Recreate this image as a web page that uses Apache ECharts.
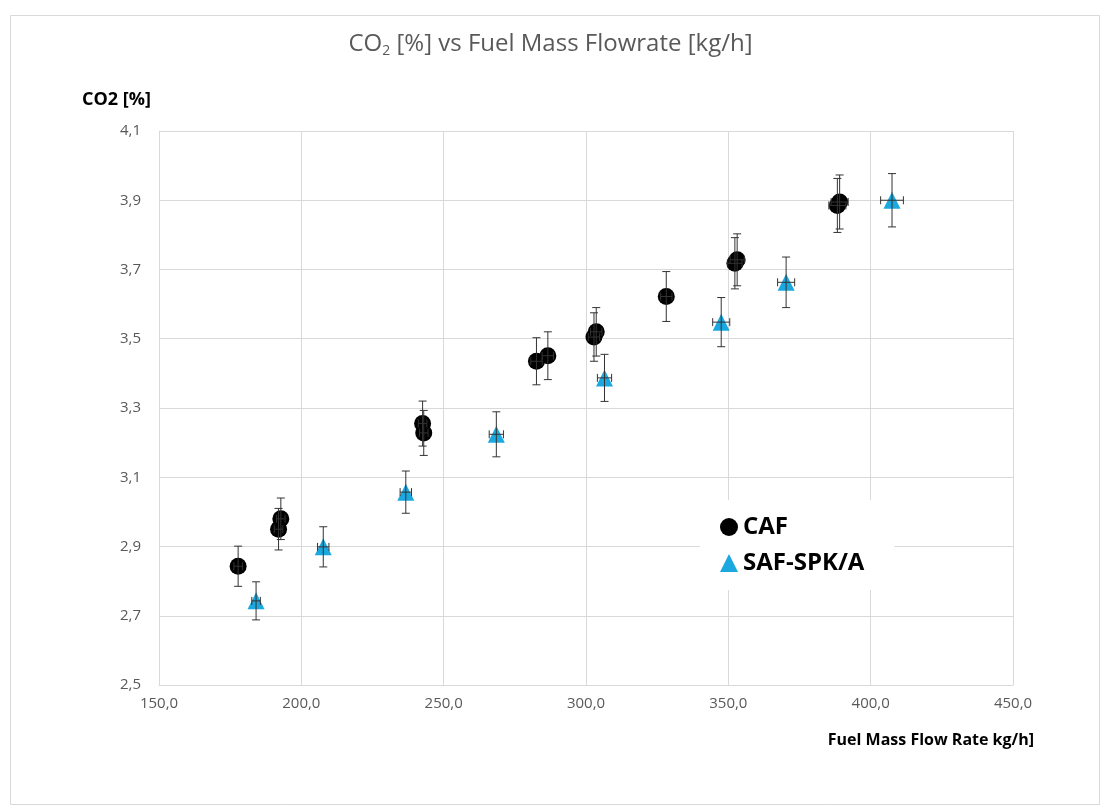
<!DOCTYPE html>
<html>
<head>
<meta charset="utf-8">
<script src="https://cdn.jsdelivr.net/npm/echarts@6/dist/echarts.min.js"></script>
<style>
html,body{margin:0;padding:0;background:#fff;}
#chart{width:1101px;height:806px;}
</style>
</head>
<body>
<div id="chart"></div>
<script>
// ---- data ----
var cafFlow = [177.8, 192.0, 192.8, 242.6, 243.0, 282.6, 286.6, 302.8, 303.6, 328.2, 352.3, 353.1, 388.3, 389.1];
var cafCO2  = [2.843, 2.950, 2.980, 3.255, 3.228, 3.435, 3.451, 3.505, 3.520, 3.622, 3.718, 3.728, 3.885, 3.895];
var cafCO2Err  = [0.058, 0.060, 0.060, 0.065, 0.065, 0.068, 0.069, 0.070, 0.070, 0.072, 0.074, 0.075, 0.078, 0.078];
var cafFlowErr = [1.5, 1.5, 1.5, 1.5, 1.5, 2.0, 2.0, 2.0, 2.0, 2.0, 2.5, 2.5, 3.0, 3.0];

var safFlow = [184.1, 207.7, 236.7, 268.5, 306.5, 347.5, 370.3, 407.5];
var safCO2  = [2.743, 2.899, 3.057, 3.224, 3.387, 3.548, 3.663, 3.900];
var safCO2Err  = [0.055, 0.058, 0.061, 0.065, 0.068, 0.071, 0.073, 0.077];
var safFlowErr = [1.5, 2.0, 2.0, 2.5, 2.5, 3.0, 3.0, 4.0];

var xTicks = {min: 150, max: 450, interval: 50};
var yTicks = {min: 2.5, max: 4.1, interval: 0.2};

// ---- build ----
function pts(xs, ys) { return xs.map(function (x, i) { return [x, ys[i]]; }); }
function errs(xs, ys, xe, ye) { return xs.map(function (x, i) { return [x, ys[i], xe[i], ye[i]]; }); }

function errorRender(params, api) {
  var x = api.value(0), y = api.value(1), xe = api.value(2), ye = api.value(3);
  var top = api.coord([x, y + ye]), bot = api.coord([x, y - ye]);
  var lft = api.coord([x - xe, y]), rgt = api.coord([x + xe, y]);
  var c = 4;
  var st = {stroke: '#333333', lineWidth: 1};
  return {
    type: 'group',
    children: [
      {type: 'line', shape: {x1: top[0], y1: top[1], x2: bot[0], y2: bot[1]}, style: st},
      {type: 'line', shape: {x1: top[0] - c, y1: top[1], x2: top[0] + c, y2: top[1]}, style: st},
      {type: 'line', shape: {x1: bot[0] - c, y1: bot[1], x2: bot[0] + c, y2: bot[1]}, style: st},
      {type: 'line', shape: {x1: lft[0], y1: lft[1], x2: rgt[0], y2: rgt[1]}, style: st},
      {type: 'line', shape: {x1: lft[0], y1: lft[1] - c, x2: lft[0], y2: lft[1] + c}, style: st},
      {type: 'line', shape: {x1: rgt[0], y1: rgt[1] - c, x2: rgt[0], y2: rgt[1] + c}, style: st}
    ]
  };
}

var FONT = '"Open Sans", "Liberation Sans", sans-serif';
var chart = echarts.init(document.getElementById('chart'), null, {renderer: 'canvas'});
chart.setOption({
  backgroundColor: '#fff',
  animation: false,
  title: {
    text: '{a|CO}{s|2}{a| [%] vs Fuel Mass Flowrate [kg/h]}',
    left: 'center',
    top: 26,
    textStyle: {
      fontWeight: 'normal',
      rich: {
        a: {fontFamily: FONT, fontSize: 24, fontWeight: 'normal', color: '#595959'},
        s: {fontFamily: FONT, fontSize: 14, fontWeight: 'normal', color: '#595959', padding: [13, 0, 0, 0]}
      }
    }
  },
  graphic: [
    {type: 'rect', left: 8, top: 13, shape: {width: 1089, height: 789}, style: {fill: 'none', stroke: '#d9d9d9', lineWidth: 1}, silent: true, z: -1},
    {type: 'text', left: 82, top: 91, style: {text: 'CO2 [%]', font: 'bold 18px ' + FONT, fill: '#000'}},
    {type: 'text', right: 1101 - 1034, top: 732, style: {text: 'Fuel Mass Flow Rate kg/h]', font: 'bold 16px ' + FONT, fill: '#000'}}
  ],
  legend: {
    left: 700,
    top: 500,
    orient: 'vertical',
    itemGap: 12,
    itemWidth: 18,
    itemHeight: 18,
    padding: [15, 30, 15, 20],
    backgroundColor: '#fff',
    textStyle: {fontFamily: FONT, fontSize: 24, fontWeight: 'bold', color: '#000'},
    data: [
      {name: 'CAF', icon: 'circle', itemStyle: {opacity: 1}},
      {name: 'SAF-SPK/A', icon: 'triangle', itemStyle: {opacity: 1}}
    ]
  },
  grid: {left: 159, right: 1101 - 1013, top: 131, bottom: 806 - 685, containLabel: false},
  xAxis: {
    type: 'value',
    min: xTicks.min, max: xTicks.max, interval: xTicks.interval,
    axisLine: {show: true, lineStyle: {color: '#d9d9d9'}},
    axisTick: {show: false},
    splitLine: {show: true, lineStyle: {color: '#d9d9d9', width: 1}},
    axisLabel: {
      margin: 11,
      color: '#595959', fontFamily: FONT, fontSize: 15,
      formatter: function (v) { return v.toFixed(1).replace('.', ','); }
    }
  },
  yAxis: {
    type: 'value',
    min: yTicks.min, max: yTicks.max, interval: yTicks.interval,
    axisLine: {show: true, lineStyle: {color: '#d9d9d9'}},
    axisTick: {show: false},
    splitLine: {show: true, lineStyle: {color: '#d9d9d9', width: 1}},
    axisLabel: {
      margin: 18,
      color: '#595959', fontFamily: FONT, fontSize: 15,
      formatter: function (v) { return v.toFixed(1).replace('.', ','); }
    }
  },
  series: [
    {
      name: 'CAF', type: 'scatter', symbol: 'circle', symbolSize: 17,
      itemStyle: {color: '#000', opacity: 1}, data: pts(cafFlow, cafCO2), z: 3
    },
    {
      name: 'SAF-SPK/A', type: 'scatter', symbol: 'triangle', symbolSize: 17,
      itemStyle: {color: '#1aa8df', opacity: 1}, data: pts(safFlow, safCO2), z: 3
    },
    {
      name: 'CAF err', type: 'custom', renderItem: errorRender,
      encode: {x: 0, y: 1}, data: errs(cafFlow, cafCO2, cafFlowErr, cafCO2Err), z: 4, silent: true
    },
    {
      name: 'SAF err', type: 'custom', renderItem: errorRender,
      encode: {x: 0, y: 1}, data: errs(safFlow, safCO2, safFlowErr, safCO2Err), z: 4, silent: true
    }
  ]
});
</script>
</body>
</html>
